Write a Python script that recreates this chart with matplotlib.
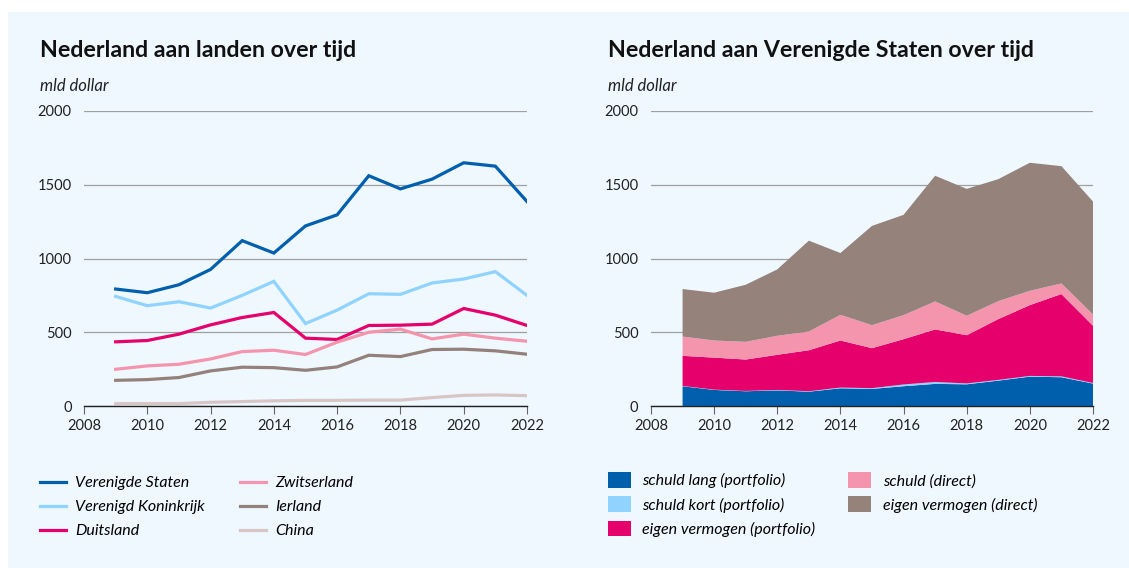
import matplotlib
matplotlib.use('Agg')
import matplotlib.pyplot as plt
from matplotlib.patches import Rectangle, Patch
from matplotlib.lines import Line2D
import numpy as np

plt.rcParams['font.family'] = ['Lato', 'DejaVu Sans']

years = list(range(2009, 2023))

# left chart: Nederland aan landen (mld dollar)
verenigde_staten = [793, 768, 822, 926, 1121, 1037, 1221, 1296, 1561, 1472, 1538, 1649, 1626, 1386]
verenigd_koninkrijk = [743, 680, 707, 664, 750, 845, 559, 650, 761, 757, 834, 861, 911, 750]
duitsland = [435, 444, 487, 550, 600, 634, 460, 451, 546, 548, 555, 661, 616, 546]
zwitserland = [249, 272, 283, 319, 369, 378, 349, 433, 500, 521, 455, 487, 460, 439]
ierland = [174, 179, 193, 238, 263, 260, 242, 265, 344, 335, 383, 385, 374, 351]
china = [16, 16, 16, 25, 30, 35, 38, 38, 40, 40, 57, 72, 75, 70]

# right chart: Nederland aan Verenigde Staten, by type
schuld_lang_portfolio = [134, 109, 100, 106, 97, 120, 116, 134, 150, 147, 172, 199, 195, 152]
schuld_kort_portfolio = [2, 2, 2, 3, 3, 5, 5, 12, 13, 6, 5, 5, 6, 4]
eigen_vermogen_portfolio = [204, 217, 213, 238, 278, 319, 271, 307, 356, 327, 412, 480, 558, 388]
schuld_direct = [131, 116, 120, 129, 127, 174, 156, 163, 190, 132, 122, 97, 72, 77]
eigen_vermogen_direct = [322, 324, 387, 450, 616, 419, 673, 680, 852, 860, 827, 868, 795, 765]

line_names = ['Verenigde Staten', 'Verenigd Koninkrijk', 'Duitsland',
              'Zwitserland', 'Ierland', 'China']
line_data = [verenigde_staten, verenigd_koninkrijk, duitsland, zwitserland, ierland, china]
line_colors = ['#005fad', '#8fd3fe', '#e5006c', '#f495ad', '#94817b', '#d8c6c7']

stack_names = ['schuld lang (portfolio)', 'schuld kort (portfolio)',
               'eigen vermogen (portfolio)', 'schuld (direct)', 'eigen vermogen (direct)']
stack_data = [schuld_lang_portfolio, schuld_kort_portfolio, eigen_vermogen_portfolio,
              schuld_direct, eigen_vermogen_direct]
stack_colors = ['#005fad', '#8fd3fe', '#e5006c', '#f495ad', '#94827b']

W, H = 1129, 568
bg = '#eef8fe'
fig = plt.figure(figsize=(W / 100, H / 100), dpi=100)
fig.patch.set_facecolor('white')
fig.patches.append(Rectangle((8 / W, 0), 1, 1 - 12 / H, transform=fig.transFigure,
                             facecolor=bg, edgecolor='none', zorder=-10))


def px(x0, x1, ytop, ybot):
    return [x0 / W, 1 - ybot / H, (x1 - x0) / W, (ybot - ytop) / H]


def style(ax):
    ax.set_facecolor('none')
    ax.set_xlim(2008, 2022)
    ax.set_ylim(0, 2000)
    ax.set_xticks(range(2008, 2023, 2))
    ax.set_yticks([0, 500, 1000, 1500, 2000])
    for s in ['top', 'right', 'left']:
        ax.spines[s].set_visible(False)
    ax.spines['bottom'].set_color('#222222')
    ax.spines['bottom'].set_linewidth(1.0)
    ax.spines['bottom'].set_zorder(5)
    ax.grid(axis='y', color='#a0a0a0', linewidth=0.9)
    ax.set_axisbelow(True)
    ax.tick_params(axis='y', length=0, pad=9, labelsize=10.5, labelcolor='#222222')
    ax.tick_params(axis='x', length=6, width=0.8, color='#666666', pad=3,
                   labelsize=10.5, labelcolor='#222222')


ax1 = fig.add_axes(px(84, 527, 111, 406))
style(ax1)
for name, vals, col in zip(line_names, line_data, line_colors):
    ax1.plot(years, vals, color=col, linewidth=2.3, label=name, solid_joinstyle='miter')

ax2 = fig.add_axes(px(651, 1093, 111, 406))
style(ax2)
ax2.stackplot(years, *stack_data, colors=stack_colors, labels=stack_names, linewidth=0)

fig.text(40 / W, 1 - 57 / H, 'Nederland aan landen over tijd', fontsize=16.7,
         fontweight='bold', color='#111111', va='baseline')
fig.text(608 / W, 1 - 57 / H, 'Nederland aan Verenigde Staten over tijd', fontsize=16.7,
         fontweight='bold', color='#111111', va='baseline')
fig.text(40 / W, 1 - 91 / H, 'mld dollar', fontsize=12, style='italic',
         color='#222222', va='baseline')
fig.text(608 / W, 1 - 91 / H, 'mld dollar', fontsize=12, style='italic',
         color='#222222', va='baseline')

h1 = [Line2D([0], [0], color=c, linewidth=2.3) for c in line_colors]
leg1 = fig.legend(h1, line_names, loc='upper left', bbox_to_anchor=(40 / W, 1 - 476 / H),
                  ncol=2, frameon=False, borderpad=0, borderaxespad=0,
                  handlelength=1.6, handletextpad=0.6, columnspacing=2.2,
                  labelspacing=0.62, prop={'style': 'italic', 'size': 11.5})

h2 = [Patch(facecolor=c, edgecolor='none') for c in stack_colors]
leg2 = fig.legend(h2, stack_names, loc='upper left', bbox_to_anchor=(608 / W, 1 - 472 / H),
                  ncol=2, frameon=False, borderpad=0, borderaxespad=0,
                  handlelength=1.45, handleheight=1.15, handletextpad=0.7,
                  columnspacing=2.05, labelspacing=0.5, prop={'style': 'italic', 'size': 11.5})

fig.savefig('out.png', dpi=100, facecolor=fig.get_facecolor())
